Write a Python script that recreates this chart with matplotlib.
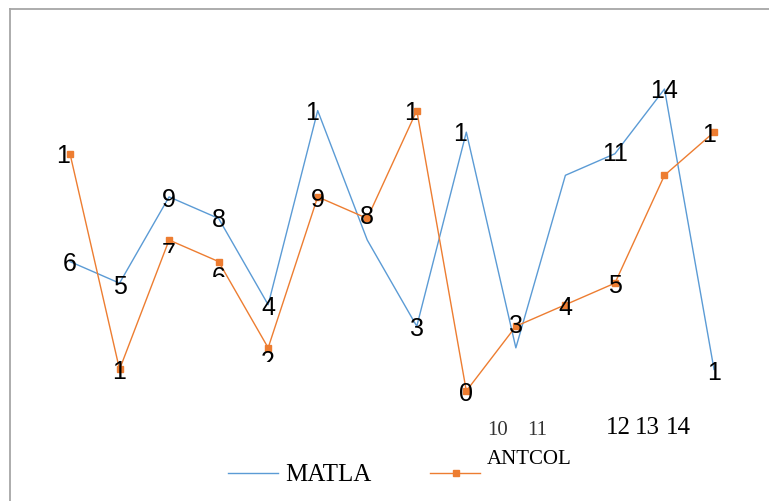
import matplotlib
matplotlib.use("Agg")
import matplotlib.pyplot as plt
from matplotlib.lines import Line2D
from matplotlib.transforms import Bbox

# Data
matla = [6, 5, 9, 8, 4, 13, 7, 3, 12, 2, 10, 11, 14, 1]
antcol = [11, 1, 7, 6, 2, 9, 8, 13, 0, 3, 4, 5, 10, 12]

# data labels as they show up in the picture (None = not drawn)
matla_labels = ["6", "5", "9", "8", "4", "1", None, "3", "1", None, None, "11", "14", "1"]
antcol_labels = ["1", "1", "7", "6", "2", "9", "8", "1", "0", "3", "4", "5", None, "1"]

axis_small = ["10", "11"]
axis_big = ["12", "13", "14"]

W, H = 769, 502
BLUE = "#5b9bd5"
ORANGE = "#ed7d31"

fig = plt.figure(figsize=(W / 100, H / 100), dpi=100)
ax = fig.add_axes([0, 0, 1, 1])
ax.axis("off")

# map index 0 -> px 70, step 49.54 ; value 0 -> px 392, 21.57 px per unit
step, unit = 49.54, 21.57
ax.set_xlim(-70 / step, (W - 70) / step)
ax.set_ylim((392 - H) / unit, 392 / unit)

x = list(range(len(matla)))
ax.plot(x, matla, color=BLUE, lw=1.0)
ax.plot(x, antcol, color=ORANGE, lw=1.0, marker="s", markersize=4.5)

lab_font = dict(family="Liberation Sans", fontsize=18, color="black")

# label offsets in pixels (dx, dy down)
m_off = [(0, 1), (0, 3), (0, 2), (0, 1), (0, 2), (-6, 1), (0, 0), (0, 2),
         (-6, 1), (0, 0), (0, 0), (0, -1), (0, 1), (0, 3)]
a_off = [(-7, 1), (0, 2), (0, 13), (0, 15), (0, 13), (0, 2), (0, -2), (-6, 1),
         (0, 2), (0, -1), (0, 2), (0, 2), (0, 0), (-5, 2)]
# labels cut off below this pixel row
a_clip = {2: 254, 3: 278, 4: 363}

for i, t in enumerate(matla_labels):
    if t is None:
        continue
    dx, dy = m_off[i]
    ax.annotate(t, (i, matla[i]), xytext=(dx, -dy), textcoords="offset pixels",
                ha="center", va="center", **lab_font)

for i, t in enumerate(antcol_labels):
    if t is None:
        continue
    dx, dy = a_off[i]
    txt = ax.annotate(t, (i, antcol[i]), xytext=(dx, -dy), textcoords="offset pixels",
                      ha="center", va="center", **lab_font)
    if i in a_clip:
        txt.set_clip_on(True)
        txt.set_clip_box(Bbox.from_extents(0, H - a_clip[i], W, H))

# stray axis labels at the bottom
for t, px in zip(axis_small, [498, 537]):
    fig.text(px / W, 1 - 431 / H, t, ha="center", va="center",
             family="Liberation Serif", fontsize=15, color="#333333")
for t, px in zip(axis_big, [618, 647, 678]):
    fig.text(px / W, 1 - 428 / H, t, ha="center", va="center",
             family="Liberation Serif", fontsize=18)

# legend drawn by hand
fig.add_artist(Line2D([228 / W, 278 / W], [1 - 474 / H] * 2, color=BLUE, lw=1.0))
fig.text(285 / W, 1 - 475 / H, "MATLA", ha="left", va="center",
         family="Liberation Serif", fontsize=18)
fig.add_artist(Line2D([430 / W, 480 / W], [1 - 474 / H] * 2, color=ORANGE, lw=1.0))
fig.add_artist(Line2D([456 / W], [1 - 474 / H], color=ORANGE, marker="s",
                      markersize=4.5, lw=0))
fig.text(487 / W, 1 - 460 / H, "ANTCOL", ha="left", va="center",
         family="Liberation Serif", fontsize=15)

# chart frame (only top and left edges are visible)
fig.add_artist(Line2D([9.5 / W, 9.5 / W], [1 - 10 / H, 0], color="#a6a6a6", lw=1.3))
fig.add_artist(Line2D([9.5 / W, 1], [1 - 10 / H] * 2, color="#a6a6a6", lw=1.3))

fig.savefig("out.png", dpi=100)
